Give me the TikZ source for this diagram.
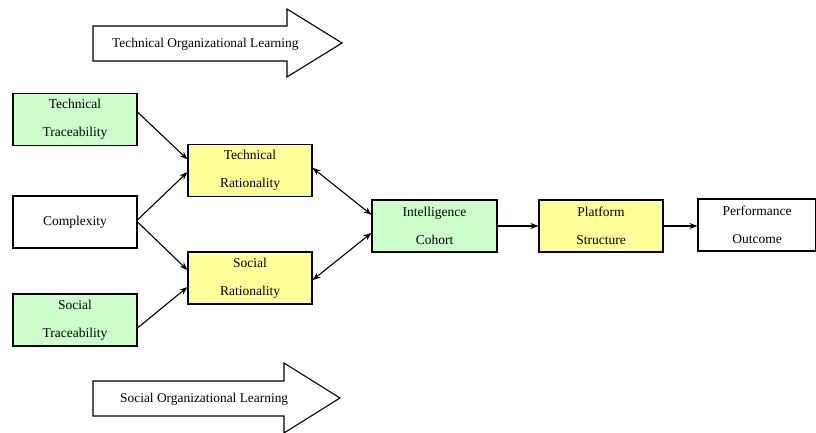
\documentclass[tikz,border=0pt]{standalone}
\usepackage{fontspec}
\setmainfont{Liberation Serif}
\usetikzlibrary{arrows.meta,calc}
\definecolor{boxgreen}{HTML}{CCFFCC}
\definecolor{boxyellow}{HTML}{FFFF99}
\tikzset{
  box/.style={draw=black, line width=1.1pt, minimum width=124pt, minimum height=52pt, inner sep=0pt,
    align=center, font=\fontsize{13.5}{28}\selectfont},
  gbox/.style={box, fill=boxgreen},
  ybox/.style={box, fill=boxyellow},
  wbox/.style={box, fill=white},
  conn/.style={line width=1.1pt, -{Stealth[length=8pt,width=6pt]}},
  biconn/.style={line width=1.1pt, {Stealth[length=8pt,width=6pt]}-{Stealth[length=8pt,width=6pt]}},
  bigarrow/.style={draw=black, line width=1.1pt, fill=white},
  arrowtext/.style={font=\fontsize{13.4}{15}\selectfont, inner sep=0pt}
}
\begin{document}
\begin{tikzpicture}[x=1pt,y=-1pt]
\useasboundingbox (0,0) rectangle (816,433);
% big arrows
\draw[bigarrow] (93,26) -- (287,26) -- (287,9) -- (342,43) -- (287,77) -- (287,61) -- (93,61) -- cycle;
\node[arrowtext, anchor=west] (tol) at (112,44) {Technical Organizational Learning};
\draw[bigarrow] (93,381) -- (284,381) -- (284,363) -- (340,398) -- (284,433) -- (284,416) -- (93,416) -- cycle;
\node[arrowtext, anchor=west] (sol) at (120,399) {Social Organizational Learning};
% boxes
\node[gbox] (tt) at (75,119.5) {Technical\\Traceability};
\node[wbox] (cx) at (75,222) {Complexity};
\node[gbox] (st) at (75,320) {Social\\Traceability};
\node[ybox] (tr) at (250,170.5) {Technical\\Rationality};
\node[ybox] (sr) at (250,278) {Social\\Rationality};
\node[gbox, minimum width=125pt] (ic) at (434.5,226) {Intelligence\\Cohort};
\node[ybox] (ps) at (601,226) {Platform\\Structure};
\node[wbox, minimum width=118pt] (po) at (757,225) {Performance\\Outcome};
% connectors
\draw[conn] ($(tt.north east)!0.36!(tt.south east)$) -- ($(tr.north west)!0.29!(tr.south west)$);
\draw[conn] ($(cx.north east)!0.46!(cx.south east)$) -- ($(tr.north west)!0.53!(tr.south west)$);
\draw[conn] ($(cx.north east)!0.5!(cx.south east)$) -- ($(sr.north west)!0.35!(sr.south west)$);
\draw[conn] ($(st.north east)!0.65!(st.south east)$) -- ($(sr.north west)!0.67!(sr.south west)$);
\draw[biconn] ($(tr.north east)!0.45!(tr.south east)$) -- ($(ic.north west)!0.29!(ic.south west)$);
\draw[biconn] ($(sr.north east)!0.54!(sr.south east)$) -- ($(ic.north west)!0.63!(ic.south west)$);
\draw[conn] (ic.east) -- (ps.west);
\draw[conn] (ps.east) -- (po.west |- ps.east);
\end{tikzpicture}
\end{document}
